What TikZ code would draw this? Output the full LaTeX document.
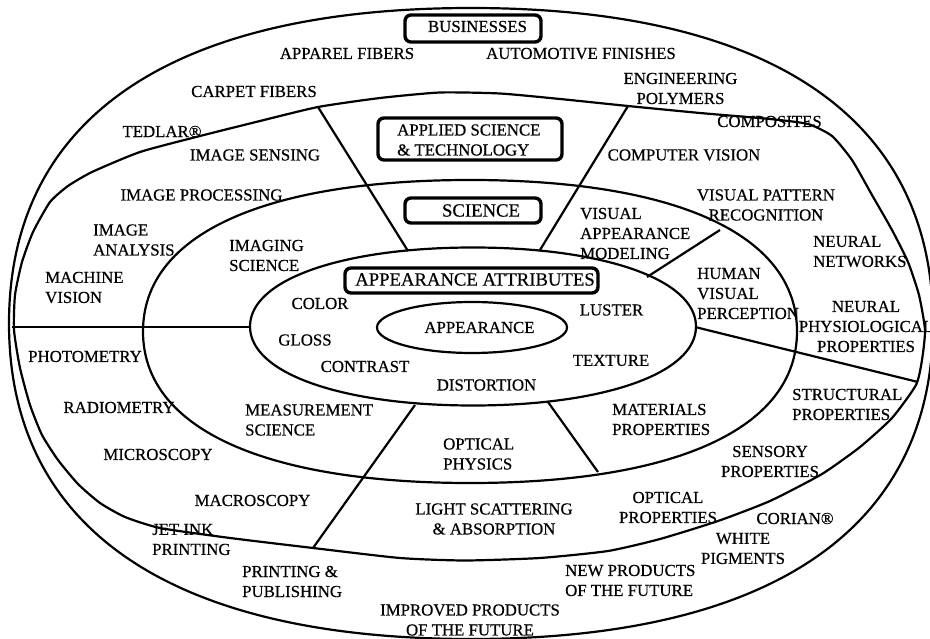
\documentclass[tikz,border=0pt]{standalone}
\usepackage{fontspec}
\setmainfont{Liberation Serif}
\newfontfamily\lblfont{Liberation Serif}[FakeBold=0.5]
\newcommand\drawoval[6]{%
 \draw[ring] ({#1-#3},{#2})
  .. controls ({#1-#3},{#2-#5*#4}) and ({#1-#6*#3},{#2-#4}) .. ({#1},{#2-#4})
  .. controls ({#1+#6*#3},{#2-#4}) and ({#1+#3},{#2-#5*#4}) .. ({#1+#3},{#2})
  .. controls ({#1+#3},{#2+#5*#4}) and ({#1+#6*#3},{#2+#4}) .. ({#1},{#2+#4})
  .. controls ({#1-#6*#3},{#2+#4}) and ({#1-#3},{#2+#5*#4}) .. ({#1-#3},{#2}) -- cycle;}
\begin{document}
\begin{tikzpicture}[x=1pt,y=-1pt,
  lbl/.style={inner sep=0pt,font=\lblfont\fontsize{16.8}{20}\selectfont},
  lbll/.style={lbl,align=left,anchor=west},
  lblc/.style={lbl,align=center},
  big/.style={inner sep=0pt,font=\lblfont\fontsize{18.7}{22}\selectfont},
  ring/.style={line width=2.2pt,line join=round},
  divider/.style={line width=2.2pt},
  tagbox/.style={draw,line width=3.4pt,rounded corners=6pt,fill=white,inner sep=0pt}]
\useasboundingbox (0,0) rectangle (930,639);
% rings
\drawoval{471}{323.5}{462}{315.5}{0.65}{0.65}
\draw[ring] plot[smooth cycle,tension=0.35] coordinates {
 (440,92.5) (500,93.5) (560,99) (628,106) (700,113) (770,119) (808,124)
 (832,136) (852,160) (872,195) (892,230) (908,262) (919,295) (925,330)
 (922,360) (916,385) (892,418) (860,447) (822,474) (770,501) (718,521)
 (660,539) (608,551) (540,558) (465,560.5) (400,558) (313,548) (230,538)
 (160,528) (125,517) (100,503) (78,484) (58,460) (42,435) (30,405)
 (20,368) (14,330) (15,295) (22,262) (33,232) (50,202) (68,186) (92,172)
 (140,152) (200,136) (260,121) (318,107) (380,98)};
\drawoval{470}{331.5}{327}{151.5}{0.65}{0.62}
\drawoval{473}{326.5}{223}{79}{0.6}{0.58}
\drawoval{472}{327.5}{95}{25.5}{0.5523}{0.5523}
% dividers
\coordinate (d1a) at (318,107); \coordinate (d1b) at (408,251);
\coordinate (d2a) at (628,106); \coordinate (d2b) at (540,250);
\coordinate (d3a) at (720,230); \coordinate (d3b) at (647,277);
\coordinate (d4a) at (695,327); \coordinate (d4b) at (918,382);
\coordinate (d5a) at (548,402); \coordinate (d5b) at (598,472);
\coordinate (d6a) at (415,405); \coordinate (d6b) at (313,548);
\coordinate (d7a) at (12,327);  \coordinate (d7b) at (250,327);
\draw[divider] (d1a) -- (d1b);
\draw[divider] (d2a) -- (d2b);
\draw[divider] (d3a) -- (d3b);
\draw[divider] (d4a) -- (d4b);
\draw[divider] (d5a) -- (d5b);
\draw[divider] (d6a) -- (d6b);
\draw[divider] (d7a) -- (d7b);
% title boxes
\node[tagbox,minimum width=136pt,minimum height=27pt] (busbox) at (473,28.5) {};
\node[tagbox,minimum width=184pt,minimum height=42pt] (appbox) at (470,139) {};
\node[tagbox,minimum width=136pt,minimum height=25pt] (scibox) at (473,210.5) {};
\node[tagbox,minimum width=253pt,minimum height=25pt] (attbox) at (471.5,280.5) {};
\node[lbl] (bus) at (477.5,26.5) {BUSINESSES};
\node[lbll] (app) at (397,140) {APPLIED SCIENCE\\\& TECHNOLOGY};
\node[big] (sci) at (481,210.5) {SCIENCE};
\node[big] (att) at (475,279.5) {APPEARANCE ATTRIBUTES};
\node[lbl] (appear) at (479.5,327.5) {APPEARANCE};
% single-line labels
\node[lbl] (apparel) at (347,53.5) {APPAREL FIBERS};
\node[lbl] (auto) at (581,53.5) {AUTOMOTIVE FINISHES};
\node[lbl] (carpet) at (254,91.5) {CARPET FIBERS};
\node[lbl] (tedlar) at (162,131.5) {TEDLAR®};
\node[lbl] (sensing) at (255,155) {IMAGE SENSING};
\node[lbl] (compvis) at (684,155) {COMPUTER VISION};
\node[lbl] (compos) at (769.5,121.5) {COMPOSITES};
\node[lbl] (proc) at (201.5,195) {IMAGE PROCESSING};
\node[lbl] (color) at (320,303.5) {COLOR};
\node[lbl] (luster) at (611.5,310) {LUSTER};
\node[lbl] (gloss) at (305,340) {GLOSS};
\node[lbl] (contrast) at (365,366.5) {CONTRAST};
\node[lbl] (texture) at (611,360.5) {TEXTURE};
\node[lbl] (distort) at (486.5,385) {DISTORTION};
\node[lbl] (photom) at (85,356.5) {PHOTOMETRY};
\node[lbl] (radiom) at (119,407.5) {RADIOMETRY};
\node[lbl] (micro) at (158,454.5) {MICROSCOPY};
\node[lbl] (macro) at (252.5,500.5) {MACROSCOPY};
\node[lbl] (corian) at (795,518.5) {CORIAN®};
% multi-line labels
\node[lblc] (engpol) at (680.5,88.5) {ENGINEERING\\POLYMERS};
\node[lbll] (imganal) at (93,240) {IMAGE\\ANALYSIS};
\node[lbll] (imgsci) at (229,255.5) {IMAGING\\SCIENCE};
\node[lbll] (machvis) at (45,287.5) {MACHINE\\VISION};
\node[lblc] (vpr) at (766,205) {VISUAL PATTERN\\RECOGNITION};
\node[lbll] (vam) at (580,233.5) {VISUAL\\APPEARANCE\\MODELING};
\node[lbll] (neunet) at (813,251.5) {NEURAL\\NETWORKS};
\node[lbll] (hvp) at (697,293.5) {HUMAN\\VISUAL\\PERCEPTION};
\node[lblc] (neuphys) at (866,326.5) {NEURAL\\PHYSIOLOGICAL\\PROPERTIES};
\node[lbll] (meas) at (245,420) {MEASUREMENT\\SCIENCE};
\node[lbll] (struct) at (792,404.5) {STRUCTURAL\\PROPERTIES};
\node[lbll] (mater) at (612,419.5) {MATERIALS\\PROPERTIES};
\node[lbll] (optphys) at (443,454) {OPTICAL\\PHYSICS};
\node[lblc] (sensory) at (770,461.5) {SENSORY\\PROPERTIES};
\node[lblc] (optprop) at (668,507.5) {OPTICAL\\PROPERTIES};
\node[lblc] (light) at (494,519) {LIGHT SCATTERING\\\& ABSORPTION};
\node[lbll] (jetink) at (152,539.5) {JET INK\\PRINTING};
\node[lblc] (white) at (743,548.5) {WHITE\\PIGMENTS};
\node[lbll] (printpub) at (242,581.5) {PRINTING \&\\PUBLISHING};
\node[lbll] (newprod) at (565,580.5) {NEW PRODUCTS\\OF THE FUTURE};
\node[lblc] (improved) at (470,620) {IMPROVED PRODUCTS\\OF THE FUTURE};
\end{tikzpicture}
\end{document}
